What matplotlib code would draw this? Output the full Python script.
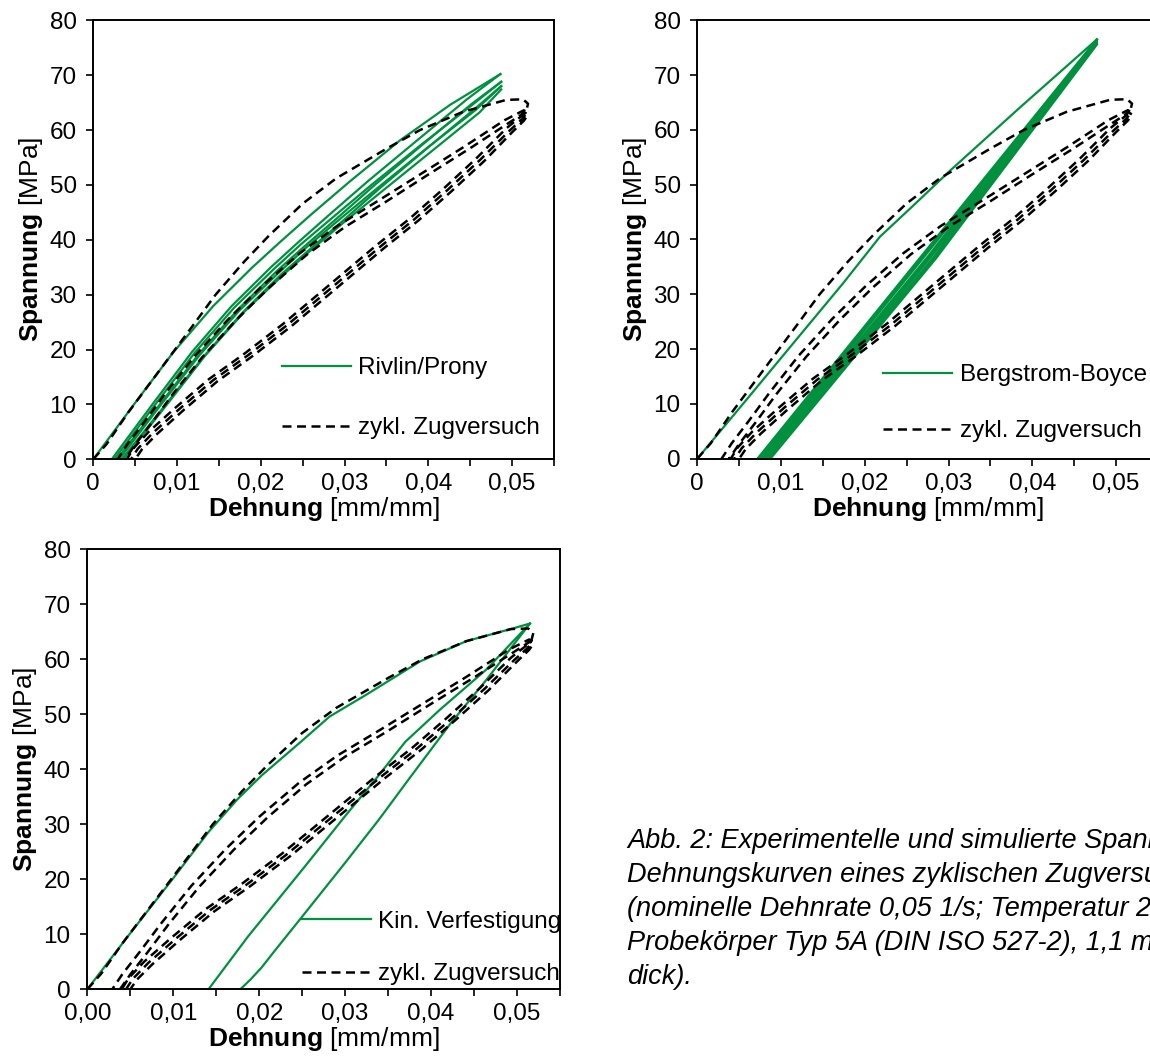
import numpy as np
import matplotlib
matplotlib.use('Agg')
import matplotlib.pyplot as plt
from matplotlib.ticker import MultipleLocator, FuncFormatter

plt.rcParams['font.family'] = ['Liberation Sans', 'DejaVu Sans']
plt.rcParams['mathtext.fontset'] = 'custom'
plt.rcParams['mathtext.rm'] = 'Liberation Sans'
plt.rcParams['mathtext.bf'] = 'Liberation Sans:bold'

green = '#00913f'

# --- zykl. Zugversuch (experiment, same in all panels) ---
exp_load_x = [0, 0.0016, 0.0042, 0.0082, 0.0120, 0.0146, 0.0180, 0.0210, 0.0250, 0.0290, 0.0350, 0.0390, 0.0441, 0.0493, 0.0513, 0.0519, 0.0517]
exp_load_y = [0, 2.8, 8.6, 16.8, 24.6, 30.0, 36.0, 40.8, 46.6, 51.2, 56.6, 60.0, 63.3, 65.5, 65.6, 64.8, 63.6]
exp_unl1_x = [0.0517, 0.0510, 0.0493, 0.0457, 0.0418, 0.0378, 0.0338, 0.0282, 0.0226, 0.0180, 0.0138, 0.0098, 0.0066, 0.0048, 0.0040]
exp_unl1_y = [63.6, 62.4, 60.3, 54.8, 49.3, 43.9, 39.0, 31.8, 24.6, 19.2, 14.6, 9.4, 5.0, 2.0, 0]
exp_rel1_x = [0.0029, 0.0041, 0.0061, 0.0086, 0.0121, 0.0161, 0.0201, 0.0246, 0.0291, 0.0341, 0.0391, 0.0441, 0.0491, 0.0514, 0.0518]
exp_rel1_y = [0, 2.8, 6.8, 12.0, 18.8, 25.5, 31.5, 37.5, 42.5, 47.2, 52.0, 56.8, 61.8, 63.6, 63.2]
exp_unl2_x = [0.0518, 0.0512, 0.0497, 0.0462, 0.0423, 0.0383, 0.0343, 0.0287, 0.0231, 0.0185, 0.0143, 0.0103, 0.0071, 0.0053, 0.0045]
exp_unl2_y = [63.2, 62.0, 59.9, 54.6, 49.1, 43.7, 38.8, 31.6, 24.4, 19.0, 14.4, 9.2, 4.8, 1.9, 0]
exp_rel2_x = [0.0038, 0.0050, 0.0070, 0.0095, 0.0130, 0.0170, 0.0210, 0.0255, 0.0300, 0.0350, 0.0399, 0.0449, 0.0497, 0.0515, 0.0519]
exp_rel2_y = [0, 2.7, 6.7, 11.9, 18.6, 25.3, 31.3, 37.3, 42.3, 47.0, 51.8, 56.6, 61.4, 63.2, 62.8]
exp_unl3_x = [0.0519, 0.0514, 0.0500, 0.0467, 0.0428, 0.0388, 0.0348, 0.0292, 0.0236, 0.0190, 0.0148, 0.0108, 0.0076, 0.0058, 0.0050]
exp_unl3_y = [62.8, 61.7, 59.6, 54.4, 48.9, 43.5, 38.6, 31.4, 24.2, 18.8, 14.2, 9.0, 4.6, 1.8, 0]

# --- Rivlin/Prony ---
riv_load_x = [0, 0.0050, 0.0096, 0.0143, 0.0190, 0.0223, 0.0260, 0.0306, 0.0366, 0.0426, 0.0486]
riv_load_y = [0, 10.3, 19.6, 27.9, 35.0, 39.6, 44.6, 50.6, 58.1, 64.6, 70.2]
riv_unl1_x = [0.0486, 0.0446, 0.0388, 0.0328, 0.0282, 0.0245, 0.0212, 0.0165, 0.0118, 0.0072, 0.0022]
riv_unl1_y = [70.2, 65.6, 58.3, 50.7, 44.6, 39.6, 35.0, 27.9, 19.6, 10.3, 0]
riv_rel1_x = [0.0025, 0.0075, 0.0121, 0.0168, 0.0215, 0.0248, 0.0286, 0.0332, 0.0392, 0.0450, 0.0487]
riv_rel1_y = [0, 10.2, 19.4, 27.6, 34.6, 39.2, 44.1, 50.0, 57.4, 64.3, 68.8]
riv_unl2_x = [0.0487, 0.0452, 0.0395, 0.0336, 0.0290, 0.0252, 0.0219, 0.0172, 0.0125, 0.0079, 0.0028]
riv_unl2_y = [68.8, 64.8, 57.6, 50.0, 43.8, 38.8, 34.3, 27.2, 19.0, 9.9, 0]
riv_rel2_x = [0.0031, 0.0081, 0.0127, 0.0175, 0.0222, 0.0255, 0.0293, 0.0339, 0.0399, 0.0456, 0.0487]
riv_rel2_y = [0, 10.0, 19.0, 27.2, 34.1, 38.7, 43.6, 49.4, 56.8, 63.6, 68.0]
riv_unl3_x = [0.0487, 0.0458, 0.0401, 0.0342, 0.0296, 0.0258, 0.0225, 0.0178, 0.0131, 0.0085, 0.0034]
riv_unl3_y = [68.0, 64.2, 57.0, 49.4, 43.2, 38.2, 33.8, 26.7, 18.6, 9.7, 0]
riv_rel3_x = [0.0036, 0.0087, 0.0133, 0.0181, 0.0228, 0.0262, 0.0300, 0.0346, 0.0406, 0.0461, 0.0487]
riv_rel3_y = [0, 9.8, 18.8, 27.0, 33.8, 38.4, 43.3, 49.0, 56.4, 63.2, 67.4]

# --- Bergstrom-Boyce ---
bb_load_x = [0, 0.0060, 0.0118, 0.0174, 0.0218, 0.0260, 0.0302, 0.0386, 0.0477]
bb_load_y = [0, 11.0, 21.7, 32.0, 40.5, 46.5, 52.6, 64.2, 76.5]
bb_cyc_x = [0.0477, 0.0270, 0.0072, 0.0075, 0.0273, 0.0477, 0.0276, 0.0078, 0.0081, 0.0279, 0.0477, 0.0282, 0.0084, 0.0087, 0.0285, 0.0477]
bb_cyc_y = [76.5, 37.4, 0, 0, 37.3, 76.2, 37.0, 0, 0, 36.9, 75.9, 36.7, 0, 0, 36.6, 75.6]

# --- Kin. Verfestigung ---
kv_load_x = [0, 0.0049, 0.0079, 0.0101, 0.0141, 0.0175, 0.0203, 0.0247, 0.0282, 0.0325, 0.0387, 0.0441, 0.0495, 0.0515]
kv_load_y = [0, 10.0, 16.0, 20.4, 28.6, 34.6, 38.9, 44.8, 49.6, 53.6, 59.6, 63.3, 65.6, 66.5]
kv_unl_x = [0.0515, 0.0464, 0.0422, 0.0375, 0.0340, 0.0300, 0.0253, 0.0234, 0.0215, 0.0203, 0.0190, 0.0178]
kv_unl_y = [66.5, 56.2, 48.2, 38.4, 31.0, 23.0, 13.8, 10.1, 6.4, 4.0, 1.8, 0]
kv_rel_x = [0.0141, 0.0187, 0.0253, 0.0300, 0.0337, 0.0370, 0.0410, 0.0464, 0.0515]
kv_rel_y = [0, 9.6, 22.3, 31.5, 38.5, 45.0, 50.8, 58.1, 66.5]

caption = ['Abb. 2: Experimentelle und simulierte Spannungs-',
           'Dehnungskurven eines zyklischen Zugversuchs',
           '(nominelle Dehnrate 0,05 1/s; Temperatur 23 °C;',
           'Probekörper Typ 5A (DIN ISO 527-2), 1,1 mm',
           'dick).']

exp_x = np.concatenate([exp_load_x, exp_unl1_x, exp_rel1_x, exp_unl2_x, exp_rel2_x, exp_unl3_x])
exp_y = np.concatenate([exp_load_y, exp_unl1_y, exp_rel1_y, exp_unl2_y, exp_rel2_y, exp_unl3_y])

W, H = 1150, 1062
fig = plt.figure(figsize=(W / 100, H / 100), dpi=100)


def box(left, top, right, bottom):
    return [left / W, 1 - bottom / H, (right - left) / W, (bottom - top) / H]


def setup(ax, two_dec):
    ax.set_xlim(0, 0.055)
    ax.set_ylim(0, 80)
    ax.xaxis.set_major_locator(MultipleLocator(0.01))
    ax.xaxis.set_minor_locator(MultipleLocator(0.005))
    ax.yaxis.set_major_locator(MultipleLocator(10))
    if two_dec:
        fmt = lambda v, p: ('%.2f' % v).replace('.', ',')
    else:
        fmt = lambda v, p: '0' if abs(v) < 1e-9 else ('%.2f' % v).replace('.', ',')
    ax.xaxis.set_major_formatter(FuncFormatter(fmt))
    ax.tick_params(which='both', direction='out', length=5, width=1.2, top=False, right=False)
    ax.tick_params(axis='x', which='major', labelsize=17.5, pad=5)
    ax.tick_params(axis='y', labelsize=17.5, pad=7)
    for s in ax.spines.values():
        s.set_linewidth(1.4)
    ax.set_xlabel(r'$\mathbf{Dehnung}$ [mm/mm]', fontsize=19, labelpad=0)
    ax.set_ylabel(r'$\mathbf{Spannung}$ [MPa]', fontsize=19, labelpad=3)


def exp_line(ax):
    ln, = ax.plot(exp_x, exp_y, color='black', lw=1.8, dashes=(3.6, 2.2), zorder=3)
    return ln


def add_legend(ax, handles, labels, x, y, spacing):
    ax.legend(handles, labels, loc='center left', bbox_to_anchor=(x, y), frameon=False,
              fontsize=17.5, handlelength=2.84, handletextpad=0.3, labelspacing=spacing,
              borderpad=0, borderaxespad=0)


# panel 1: Rivlin/Prony
ax1 = fig.add_axes(box(93.3, 20.3, 554, 459.3))
setup(ax1, False)
g1, = ax1.plot(riv_load_x, riv_load_y, color=green, lw=1.6, zorder=2)
for xs, ys in [(riv_unl1_x, riv_unl1_y), (riv_rel1_x, riv_rel1_y), (riv_unl2_x, riv_unl2_y),
               (riv_rel2_x, riv_rel2_y), (riv_unl3_x, riv_unl3_y), (riv_rel3_x, riv_rel3_y)]:
    ax1.plot(xs, ys, color=green, lw=1.6, zorder=2)
d1 = exp_line(ax1)
add_legend(ax1, [g1, d1], ['Rivlin/Prony', 'zykl. Zugversuch'], 0.409, 0.139, 1.55)

# panel 2: Bergstrom-Boyce
ax2 = fig.add_axes(box(697.3, 20.3, 1158, 458.7))
setup(ax2, False)
g2, = ax2.plot(bb_load_x, bb_load_y, color=green, lw=1.6, zorder=2)
ax2.plot(bb_cyc_x, bb_cyc_y, color=green, lw=1.8, zorder=2)
d2 = exp_line(ax2)
add_legend(ax2, [g2, d2], ['Bergstrom-Boyce', 'zykl. Zugversuch'], 0.404, 0.127, 1.4)

# panel 3: Kin. Verfestigung
ax3 = fig.add_axes(box(87.3, 549.3, 560, 989.3))
setup(ax3, True)
g3, = ax3.plot(kv_load_x, kv_load_y, color=green, lw=1.6, zorder=2)
ax3.plot(kv_unl_x, kv_unl_y, color=green, lw=1.6, zorder=2)
ax3.plot(kv_rel_x, kv_rel_y, color=green, lw=1.6, zorder=2)
d3 = exp_line(ax3)
add_legend(ax3, [g3, d3], ['Kin. Verfestigung', 'zykl. Zugversuch'], 0.454, 0.094, 1.25)

# caption runs past the right edge, as in the cropped original
for i, line in enumerate(caption):
    fig.text(627 / W, 1 - (848 + 34 * i) / H, line, fontsize=19.5, style='italic', va='baseline')

fig.savefig('out.png', dpi=100)
